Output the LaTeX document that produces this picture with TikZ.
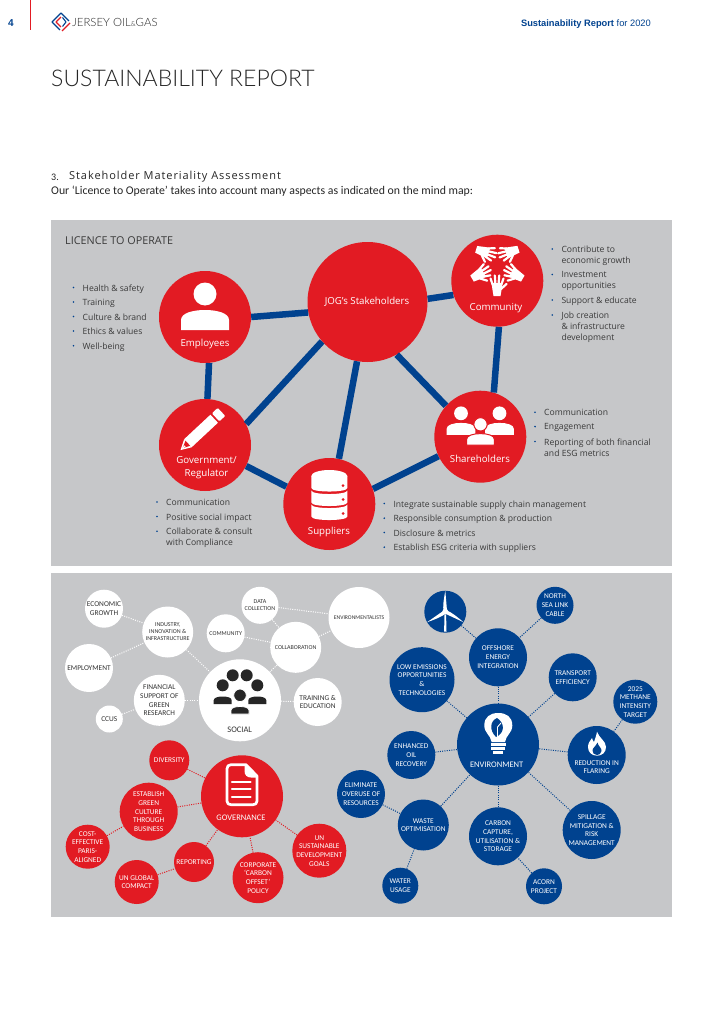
\documentclass[tikz,border=0pt]{standalone}
\usepackage{fontspec}
\usepackage{xcolor}
\setmainfont{Carlito}
\newfontfamily\labelfont{Open Sans}
\newfontfamily\spacedfont{Open Sans}[LetterSpace=8.5]
\newfontfamily\headfont{Liberation Sans}
\newfontfamily\titlefont{Lato}[UprightFont=* Light]
\usetikzlibrary{arrows.meta, positioning}
\definecolor{jogred}{HTML}{E21B23}
\definecolor{jogblue}{HTML}{00428F}
\definecolor{joggrey}{HTML}{C6C7C9}
\definecolor{jogtext}{HTML}{3A3A3A}
\newcommand{\bubfont}{\fontsize{7.4}{8.7}\selectfont}
\newcommand{\tinybub}{\fontsize{6}{7}\selectfont}
\newcommand{\listitem}[4]{%
\node (#1) [itemtext] at (#2,#3) {#4};
\fill[jogblue] ([xshift=-9pt,yshift=-3pt]#1.north west) circle (0.9);}
\tikzset{
panel/.style={fill=joggrey, draw=none},
hub/.style={circle, fill=jogred, inner sep=0pt, minimum size=#1},
hublabel/.style={text=white, inner sep=0pt, align=center, font=\labelfont\fontsize{9.7}{13}\selectfont},
itemtext/.style={anchor=north west, inner sep=0pt, align=left, text=jogtext, font=\labelfont\fontsize{8.6}{10.9}\selectfont, execute at begin node={\rule{0pt}{6pt}}},
spoke/.style={draw=jogblue, line width=6.5pt},
whitebub/.style={circle, fill=white, text=black!80, inner sep=-2pt, align=center, minimum size=#1, font=\bubfont},
redbub/.style={circle, fill=jogred, text=white, inner sep=-2pt, align=center, minimum size=#1, font=\bubfont},
bluebub/.style={circle, fill=jogblue, text=white, inner sep=-2pt, align=center, minimum size=#1, font=\bubfont},
sociallink/.style={draw=white, dash pattern=on 1pt off 1.3pt, line width=1pt},
govlink/.style={draw=jogred, dash pattern=on 1pt off 1.3pt, line width=1pt},
envlink/.style={draw=jogblue, dash pattern=on 1pt off 1.3pt, line width=1pt},
bust/.pic={\path[pic actions] (-24,24) -- (-24,14) .. controls (-24,7) and (-12,4) .. (0,4) .. controls (12,4) and (24,7) .. (24,14) -- (24,24) -- cycle;},
person/.pic={\path[pic actions] (0,-12) circle (11.5);
\path[pic actions] (-24,24) -- (-24,14) .. controls (-24,7) and (-12,4) .. (0,4) .. controls (12,4) and (24,7) .. (24,14) -- (24,24) -- cycle;},
hand/.pic={\fill[white] (-5.5,-2) -- (5.5,-2) -- (4.5,5) -- (3.5,11) -- (-3.5,11) -- (-4.5,5) -- cycle;
\draw[white, line width=2.2pt, line cap=round] (-4.2,0) -- (-6.5,-6.5) (-1.5,0) -- (-2.2,-9.5) (1.5,0) -- (2.2,-9.5) (4.2,0) -- (6.5,-6.5);
\draw[white, line width=2.2pt, line cap=round] (4,4) -- (9.5,-1);},
disk/.pic={\path[pic actions] (-18,0) .. controls (-18,4.7) and (18,4.7) .. (18,0) -- (18,12) .. controls (18,16.7) and (-18,16.7) .. (-18,12) -- cycle;},
blade/.pic={\fill[white] (0,-1.8) .. controls (6,-2.6) and (12,-1.6) .. (21,0) -- (0,1.8) -- cycle;}
}
\begin{document}
\begin{tikzpicture}[x=1pt, y=-1pt]
\useasboundingbox (0,0) rectangle (724,1024);
\fill[white] (0,0) rectangle (724,1024);

\draw[jogred, line width=1pt] (30.5,0) -- (30.5,30);
\node (pagenum) [text=jogblue, font=\headfont\bfseries\fontsize{10}{11}\selectfont] at (11,23.5) {4};
\draw[jogblue, line width=1.1pt, line join=round] (60,30) -- (52,22) -- (61,13) -- (69,21);
\draw[jogred, line width=1.1pt, line join=round] (70,23) -- (62,31);
\draw[jogred, line width=1.1pt, line join=round] (61,17) -- (56,22) -- (61,27);
\draw[jogblue, line width=1.1pt, line join=round] (62.5,17.5) -- (66,22) -- (62.5,26.5);
\node (logotext) [anchor=west, inner sep=0pt, text=black!85, font=\titlefont\fontsize{11.4}{12}\selectfont] at (72,22.5) {JERSEY OIL\raisebox{0.5pt}{\fontsize{7}{8}\selectfont\&}GAS};
\node (reportline) [anchor=east, inner sep=0pt, text=jogblue, font=\headfont\fontsize{9.3}{10}\selectfont] at (651,24) {\textbf{Sustainability Report} for 2020};
\node (pagetitle) [anchor=west, inner sep=0pt, text=black!85, font=\titlefont\fontsize{23}{28}\selectfont] at (51,78) {SUSTAINABILITY REPORT};
\node (secnum) [anchor=west, inner sep=0pt, text=black!85, font=\fontsize{10}{12}\selectfont] at (51,177) {3.};
\node (sectitle) [anchor=west, inner sep=0pt, text=black!85, font=\spacedfont\fontsize{11}{12}\selectfont] at (69,177) {Stakeholder Materiality Assessment};
\node (secintro) [anchor=west, inner sep=0pt, text=black!85, font=\fontsize{11.8}{12}\selectfont] at (51,191) {Our ‘Licence to Operate’ takes into account many aspects as indicated on the mind map:};

\fill[panel] (51,220.5) rectangle (672,565.5);
\fill[panel] (51,573) rectangle (672,917);
\node (licence) [anchor=west, inner sep=0pt, text=jogtext, font=\labelfont\fontsize{10.8}{12}\selectfont] at (65,240.5) {LICENCE TO OPERATE};

\node (stake) [hub=120pt] at (367.5,302) {};
\node (employees) [hub=92pt] at (205,317) {};
\node (government) [hub=92pt] at (205,445) {};
\node (suppliers) [hub=92pt] at (329.3,504) {};
\node (community) [hub=92pt] at (497.3,280.7) {};
\node (shareholders) [hub=92pt] at (480.3,436.7) {};

\draw[spoke] (employees.0) -- (stake.190);
\draw[spoke] (employees.275) -- (government.87.5);
\draw[spoke] (government.27.8) -- (stake.221.8);
\draw[spoke] (government.-27.5) -- (suppliers.158.7);
\draw[spoke] (suppliers.78.9) -- (stake.260);
\draw[spoke] (suppliers.19.6) -- (shareholders.205.5);
\draw[spoke] (stake.-61.1) -- (shareholders.138);
\draw[spoke] (stake.3.3) -- (community.198.7);
\draw[spoke] (community.-88) -- (shareholders.73);

\node (staketext) [hublabel] at (367,302) {JOG’s Stakeholders};
\node (emptext) [hublabel] at (205,344) {Employees};
\node (govtext) [hublabel] at (206.5,467.5) {Government/\\Regulator};
\node (suptext) [hublabel] at (329,532) {Suppliers};
\node (comtext) [hublabel] at (496,308) {Community};
\node (shatext) [hublabel] at (480,458.5) {Shareholders};

\pic (empicon) [fill=white] at (205,306) {person};
\pic (handbottom) at (497,285) {hand};
\pic (handtopl) [rotate=-106.7] at (486.7,252.5) {hand};
\pic (handtopr) [xscale=-1, rotate=-107.4] at (508,252.5) {hand};
\pic (handleft) [rotate=-59.5] at (481.5,273) {hand};
\pic (handright) [xscale=-1, rotate=-59.5] at (513.3,273) {hand};
\pic (shaleft) [fill=white, scale=0.6] at (461,420.5) {person};
\pic (sharight) [fill=white, scale=0.6] at (499.5,420.5) {person};
\pic (shafront) [fill=white, draw=jogred, line width=1pt, scale=0.58] at (480.5,431.3) {person};
\begin{scope}[shift={(201,431)}, rotate=43]
\fill[white] (-18,-5.5) -- (18,-5.5) -- (18,5.5) -- (-18,5.5) -- cycle;
\fill[white, rounded corners=1pt] (20,-5.5) -- (28,-5.5) -- (28,5.5) -- (20,5.5) -- cycle;
\fill[white] (-18,-5.5) -- (-28,0) -- (-18,5.5) -- cycle;
\fill[jogred] (-18,-3.5) -- (-25,0) -- (-18,3.5) -- cycle;
\fill[white] (-22,-1) -- (-26,0) -- (-22,1) -- cycle;
\end{scope}
\fill[white] (329.3,476) ellipse (18 and 6);
\pic (diskone) [fill=white] at (329.3,476) {disk};
\pic (disktwo) [fill=white] at (329.3,490.5) {disk};
\pic (diskthree) [fill=white] at (329.3,504.5) {disk};
\foreach \doty in {485.7,499.5,513.5}
  \fill[jogred] (343,\doty) circle (1.5);

\listitem{emp1}{82.5}{284.5}{Health \& safety}
\listitem{emp2}{82.5}{299}{Training}
\listitem{emp3}{82.5}{313.5}{Culture \& brand}
\listitem{emp4}{82.5}{328}{Ethics \& values}
\listitem{emp5}{82.5}{342.7}{Well-being}
\listitem{gov1}{166}{499}{Communication}
\listitem{gov2}{166}{513.5}{Positive social impact}
\listitem{gov3}{166}{528.2}{Collaborate \& consult\\with Compliance}
\listitem{com1}{561.3}{246}{Contribute to\\economic growth}
\listitem{com2}{561.3}{271.5}{Investment\\opportunities}
\listitem{com3}{561.3}{297}{Support \& educate}
\listitem{com4}{561.3}{312}{Job creation\\\& infrastructure\\development}
\listitem{sha1}{544}{409.2}{Communication}
\listitem{sha2}{544}{423.6}{Engagement}
\listitem{sha3}{544}{438.5}{Reporting of both financial\\and ESG metrics}
\listitem{sup1}{393.3}{500.5}{Integrate sustainable supply chain management}
\listitem{sup2}{393.3}{515.2}{Responsible consumption \& production}
\listitem{sup3}{393.3}{529.5}{Disclosure \& metrics}
\listitem{sup4}{393.3}{544.2}{Establish ESG criteria with suppliers}

\node (economic) [whitebub=38pt] at (104,608.7) {ECONOMIC\\GROWTH};
\node (industry) [whitebub=51pt, font=\tinybub] at (167.7,632) {INDUSTRY,\\INNOVATION \&\\INFRASTRUCTURE};
\node (employment) [whitebub=48pt] at (89,668) {EMPLOYMENT};
\node (financial) [whitebub=51pt] at (159.3,700.3) {FINANCIAL\\SUPPORT OF\\GREEN\\RESEARCH};
\node (ccus) [whitebub=27pt] at (109.3,719) {CCUS};
\node (social) [whitebub=82pt] at (240,700.3) {};
\node (socialtext) [text=black!80, inner sep=0pt, font=\fontsize{8.5}{10}\selectfont] at (239.7,729.7) {SOCIAL};
\node (commbub) [whitebub=38pt, font=\tinybub] at (225.7,633.3) {COMMUNITY};
\node (datacoll) [whitebub=37pt, font=\tinybub] at (260,605.3) {DATA\\COLLECTION};
\node (collab) [whitebub=51pt, font=\tinybub] at (295.7,647.3) {COLLABORATION};
\node (training) [whitebub=48pt] at (317.7,702) {TRAINING \&\\EDUCATION};
\node (envists) [whitebub=61pt, font=\fontsize{5.7}{7}\selectfont] at (359,617.5) {ENVIRONMENTALISTS};

\draw[sociallink] (economic) -- (industry);
\draw[sociallink] (employment) -- (industry);
\draw[sociallink] (industry) -- (social);
\draw[sociallink] (financial) -- (social);
\draw[sociallink] (ccus) -- (financial);
\draw[sociallink] (commbub) -- (collab);
\draw[sociallink] (datacoll) -- (collab);
\draw[sociallink] (datacoll) -- (envists);
\draw[sociallink] (collab) -- (envists);
\draw[sociallink] (collab) -- (social);
\draw[sociallink] (training) -- (social);

\fill[black!85] (232.7,675.3) circle (6);
\fill[black!85] (246.7,675.3) circle (6);
\fill[black!85] (222.7,685.3) circle (6);
\fill[black!85] (257.3,685.3) circle (6);
\pic (socbustl) [fill=black!85, scale=0.375] at (222.7,695) {bust};
\pic (socbustr) [fill=black!85, scale=0.375] at (257.3,695) {bust};
\fill[black!85, draw=white, line width=0.8pt] (240,695.3) circle (6.3);
\pic (socbustc) [fill=black!85, draw=white, line width=0.8pt, scale=0.375] at (240,705) {bust};

\node (diversity) [redbub=40pt] at (169.3,760.3) {DIVERSITY};
\node (governance) [redbub=82pt] at (242,796.3) {};
\node (govbubtext) [text=white, inner sep=0pt, font=\fontsize{8.5}{10}\selectfont] at (241,817.7) {GOVERNANCE};
\node (establish) [redbub=58pt] at (148.7,811.7) {ESTABLISH\\GREEN\\CULTURE\\THROUGH\\BUSINESS};
\node (costeff) [redbub=44pt] at (87.7,846.7) {COST-\\EFFECTIVE\\PARIS-\\ALIGNED};
\node (reporting) [redbub=40pt] at (194,862) {REPORTING};
\node (unglobal) [redbub=44pt] at (136.7,882) {UN GLOBAL\\COMPACT};
\node (corporate) [redbub=51pt] at (258,877.7) {CORPORATE\\‘CARBON\\OFFSET’\\POLICY};
\node (unsdg) [redbub=54pt] at (319.3,850.7) {UN\\SUSTAINABLE\\DEVELOPMENT\\GOALS};

\draw[govlink] (diversity) -- (governance);
\draw[govlink] (establish) -- (governance);
\draw[govlink] (costeff) -- (establish);
\draw[govlink] (reporting) -- (governance);
\draw[govlink] (unglobal) -- (reporting);
\draw[govlink] (corporate) -- (governance);
\draw[govlink] (unsdg) -- (governance);

\draw[white, line width=2.7pt, line join=round] (246,764.7) -- (231,764.7) .. controls (228.5,764.7) and (227,766.2) .. (227,768.7) -- (227,801) .. controls (227,803.5) and (228.5,804.7) .. (231,804.7) -- (253,804.7) .. controls (255.5,804.7) and (257,803.5) .. (257,801) -- (257,776) -- cycle;
\fill[white] (244.5,764) -- (258,777.5) -- (251,777.5) .. controls (247,777.5) and (244.5,775) .. (244.5,771) -- cycle;
\foreach \bary in {781.7,789,796.7}
  \draw[white, line width=2.4pt, line cap=round] (232,\bary) -- (250.5,\bary);

\node (turbine) [bluebub=42pt] at (445.3,611.7) {};
\node (northsea) [bluebub=37pt] at (555,605.3) {NORTH\\SEA LINK\\CABLE};
\node (offshore) [bluebub=58pt] at (498,657.3) {OFFSHORE\\ENERGY\\INTEGRATION};
\node (lowem) [bluebub=65pt] at (422,679.7) {LOW EMISSIONS\\OPPORTUNITIES\\\&\\TECHNOLOGIES};
\node (transport) [bluebub=48pt] at (572.7,677.3) {TRANSPORT\\EFFICIENCY};
\node (methane) [bluebub=44pt] at (635.3,701.7) {2025\\METHANE\\INTENSITY\\TARGET};
\node (environment) [bluebub=82pt] at (498,744.5) {};
\node (envtext) [text=white, inner sep=0pt, font=\fontsize{8.5}{10}\selectfont] at (496.7,765) {ENVIRONMENT};
\node (enhanced) [bluebub=48pt] at (411.3,755) {ENHANCED\\OIL\\RECOVERY};
\node (flaring) [bluebub=58pt] at (596.7,755) {};
\node (flaretext) [text=white, inner sep=0pt, align=center, font=\bubfont] at (596.7,767) {REDUCTION IN\\FLARING};
\node (eliminate) [bluebub=48pt] at (361,794) {ELIMINATE\\OVERUSE OF\\RESOURCES};
\node (waste) [bluebub=51pt] at (423.3,825) {WASTE\\OPTIMISATION};
\node (carbon) [bluebub=58pt] at (498,836.3) {CARBON\\CAPTURE,\\UTILISATION \&\\STORAGE};
\node (spillage) [bluebub=58pt] at (591.7,830) {SPILLAGE\\MITIGATION \&\\RISK\\MANAGEMENT};
\node (water) [bluebub=36pt] at (400.3,885.7) {WATER\\USAGE};
\node (acorn) [bluebub=36pt] at (544,886.3) {ACORN\\PROJECT};

\draw[envlink] (turbine) -- (offshore);
\draw[envlink] (northsea) -- (offshore);
\draw[envlink] (offshore) -- (environment);
\draw[envlink] (lowem) -- (environment);
\draw[envlink] (transport) -- (environment);
\draw[envlink] (methane) -- (flaring);
\draw[envlink] (enhanced) -- (environment);
\draw[envlink] (flaring) -- (environment);
\draw[envlink] (eliminate) -- (waste);
\draw[envlink] (waste) -- (environment);
\draw[envlink] (water) -- (waste);
\draw[envlink] (carbon) -- (environment);
\draw[envlink] (acorn) -- (carbon);
\draw[envlink] (spillage) -- (environment);

\foreach \bladeangle in {90,210,330}
  \pic (blade\bladeangle) [rotate=\bladeangle] at (445.3,611.7) {blade};
\fill[white] (445.3,611.7) circle (3);
\fill[white] (444.5,615) -- (446.1,615) -- (446.5,631.5) -- (444.1,631.5) -- cycle;

\fill[white] (484.3,725.5) .. controls (484.3,717) and (490,713) .. (498.3,713) .. controls (506.6,713) and (512.3,717) .. (512.3,725.5) .. controls (512.3,733) and (506,735) .. (505,742) -- (491.6,742) .. controls (490.6,735) and (484.3,733) .. (484.3,725.5) -- cycle;
\fill[jogblue] (497,718) .. controls (490,721) and (489,730) .. (496,737) .. controls (505,733) and (505,723) .. (497,718) -- cycle;
\draw[white, line width=0.9pt] (497.5,738) -- (497.5,727) -- (501,723);
\foreach \threadY/\threadW in {744.5/7.5,748.5/7,752.5/5}
  \draw[white, line width=2.4pt] (498.3-\threadW,\threadY) -- (498.3+\threadW,\threadY);

\fill[white] (597,731.7) .. controls (599,738) and (606,741) .. (606,747) .. controls (606,752.5) and (602,755.7) .. (597,755.7) .. controls (592,755.7) and (588,752.5) .. (588,747) .. controls (588,743) and (590,741) .. (592,738) .. controls (592.5,740) and (593,741) .. (594,742) .. controls (595,739) and (596.5,735) .. (597,731.7) -- cycle;
\fill[jogblue] (597.5,742.5) .. controls (598,746) and (602,748) .. (601.5,751) .. controls (601,754) and (599,755) .. (597,755) .. controls (594,755) and (592.5,753) .. (592.5,750.5) .. controls (592.5,748) and (596,746) .. (597.5,742.5) -- cycle;
\end{tikzpicture}
\end{document}
